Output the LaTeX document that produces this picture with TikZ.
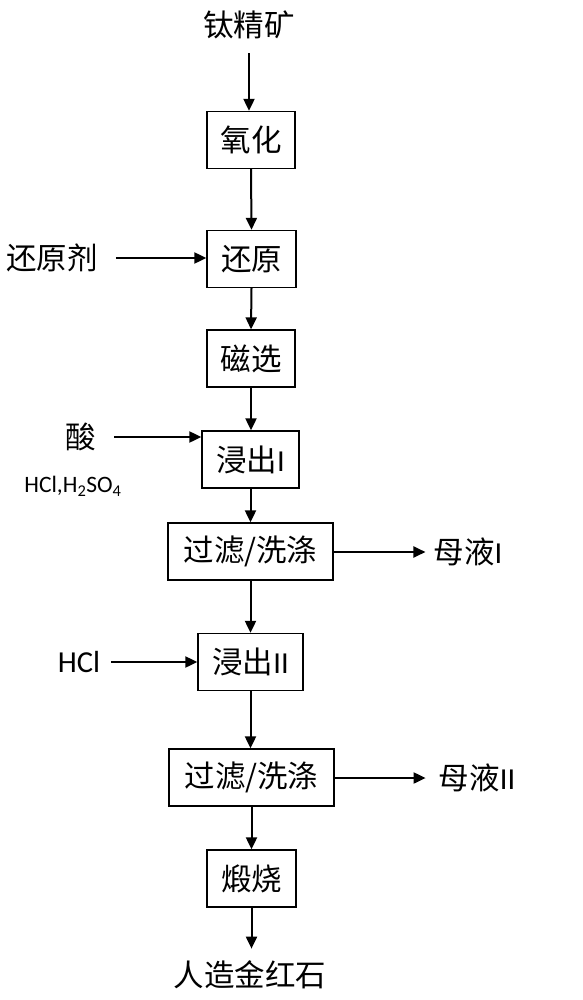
\documentclass[tikz,border=0pt]{standalone}
\usepackage{fontspec}
\setmainfont{Carlito}
\newfontfamily\cjk{Noto Sans CJK SC}
\usetikzlibrary{arrows.meta}
\begin{document}
\begin{tikzpicture}[x=1pt,y=-1pt,
  every node/.style={inner sep=0pt,font=\fontsize{30.5}{36}\selectfont},
  procbox/.style={draw,line width=1.3pt,minimum height=57pt,anchor=center},
  lbl/.style={anchor=center},
  arr/.style={line width=2pt,-{Triangle[length=12pt,width=11pt]}}]
\useasboundingbox (0,0) rectangle (582,1000);
% boxes
\node[procbox,minimum width=88pt] (ox) at (251,140) {\cjk 氧化};
\node[procbox,minimum width=89pt] (rd) at (251.5,259) {\cjk 还原};
\node[procbox,minimum width=88pt] (mag) at (251,358.5) {\cjk 磁选};
\node[procbox,minimum width=97pt] (le1) at (250.5,459.5) {{\cjk 浸出}I};
\node[procbox,minimum width=165pt] (fw1) at (250.5,551.5) {\cjk 过滤/洗涤};
\node[procbox,minimum width=105pt] (le2) at (250.5,662) {{\cjk 浸出}II};
\node[procbox,minimum width=165pt] (fw2) at (251.5,777.5) {\cjk 过滤/洗涤};
\node[procbox,minimum width=89pt] (cal) at (251.5,878.5) {\cjk 煅烧};
% labels
\node[lbl] (top) at (249,25) {\cjk 钛精矿};
\node[lbl] (prod) at (250,975) {\cjk 人造金红石};
\node[lbl] (red) at (52,258) {\cjk 还原剂};
\node[lbl] (acid) at (81,437) {\cjk 酸};
\node[lbl,font=\fontsize{23.5}{28}\selectfont] (acids) at (73,486) {HCl,H\textsubscript{2}SO\textsubscript{4}};
\node[lbl] (hcl) at (79,662) {HCl};
\node[lbl] (ml1) at (468,552) {{\cjk 母液}I};
\node[lbl] (ml2) at (477,778) {{\cjk 母液}II};
% arrows
\draw[arr,shorten <=14pt] (top.south) -- (top.south |- ox.north);
\draw[arr] (ox.south) -- (rd.north);
\draw[arr] (rd.south) -- (mag.north);
\draw[arr] (mag.south) -- (mag.south |- le1.north);
\draw[arr] (le1.south) -- (le1.south |- fw1.north);
\draw[arr] (fw1.south) -- (fw1.south |- le2.north);
\draw[arr] (le2.south) -- (le2.south |- fw2.north);
\draw[arr] (fw2.south) -- (cal.north);
\draw[arr,shorten >=12pt] (cal.south) -- (cal.south |- prod.north);
\draw[arr,shorten <=18pt] (red.east) -- (red.east -| rd.west);
\draw[arr,shorten <=18pt] (acid.east) -- (acid.east -| le1.west);
\draw[arr,shorten <=11pt] (hcl.east) -- (hcl.east -| le2.west);
\draw[arr,shorten >=8pt] (fw1.east |- ml1.west) -- (ml1.west);
\draw[arr,shorten >=13pt] (fw2.east |- ml2.west) -- (ml2.west);
\end{tikzpicture}
\end{document}
